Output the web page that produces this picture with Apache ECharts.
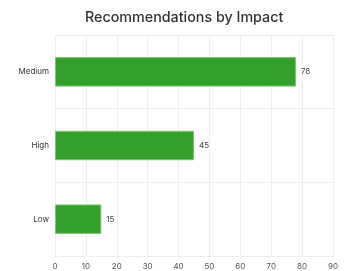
<!DOCTYPE html>
<html>
<head>
<meta charset="utf-8">
<script src="https://cdn.jsdelivr.net/npm/echarts@6/dist/echarts.min.js"></script>
<style>
  html, body { margin: 0; padding: 0; background: #fff; }
  #main { width: 347px; height: 271px; }
</style>
</head>
<body>
<div id="main"></div>
<script>
// 数据
var categories = ['Medium', 'High', 'Low'];
var counts = [78, 45, 15];
var xTicks = [0, 10, 20, 30, 40, 50, 60, 70, 80, 90];

var chart = echarts.init(document.getElementById('main'));
var option = {
    animation: false,
    textStyle: { fontFamily: 'Inter, sans-serif' },
    title: {
        text: 'Recommendations by Impact',
        left: 80,
        top: 6,
        textStyle: { fontSize: 14.3, fontWeight: 500, color: '#333', fontFamily: 'Inter, sans-serif' }
    },
    grid: { left: 55, right: 14, top: 35, bottom: 15 },
    xAxis: {
        type: 'value',
        min: xTicks[0],
        max: xTicks[xTicks.length - 1],
        interval: 10,
        axisLine: { show: true, lineStyle: { color: '#eee' } },
        axisTick: { show: false },
        axisLabel: { fontSize: 8, color: '#555', margin: 7 },
        splitLine: { lineStyle: { color: '#eee' } }
    },
    yAxis: {
        type: 'category',
        data: categories,
        inverse: true,
        axisLine: { show: false },
        axisTick: { show: false },
        axisLabel: { fontSize: 8, color: '#333', margin: 6 },
        splitLine: { show: true, lineStyle: { color: '#eee' } }
    },
    series: [{
        type: 'bar',
        data: counts,
        barWidth: '40%',
        itemStyle: { color: '#33a02c', borderColor: '#7cc66f', borderWidth: 1 },
        label: { show: true, position: 'right', fontSize: 8, color: '#444', distance: 5 }
    }]
};
chart.setOption(option);
</script>
</body>
</html>
